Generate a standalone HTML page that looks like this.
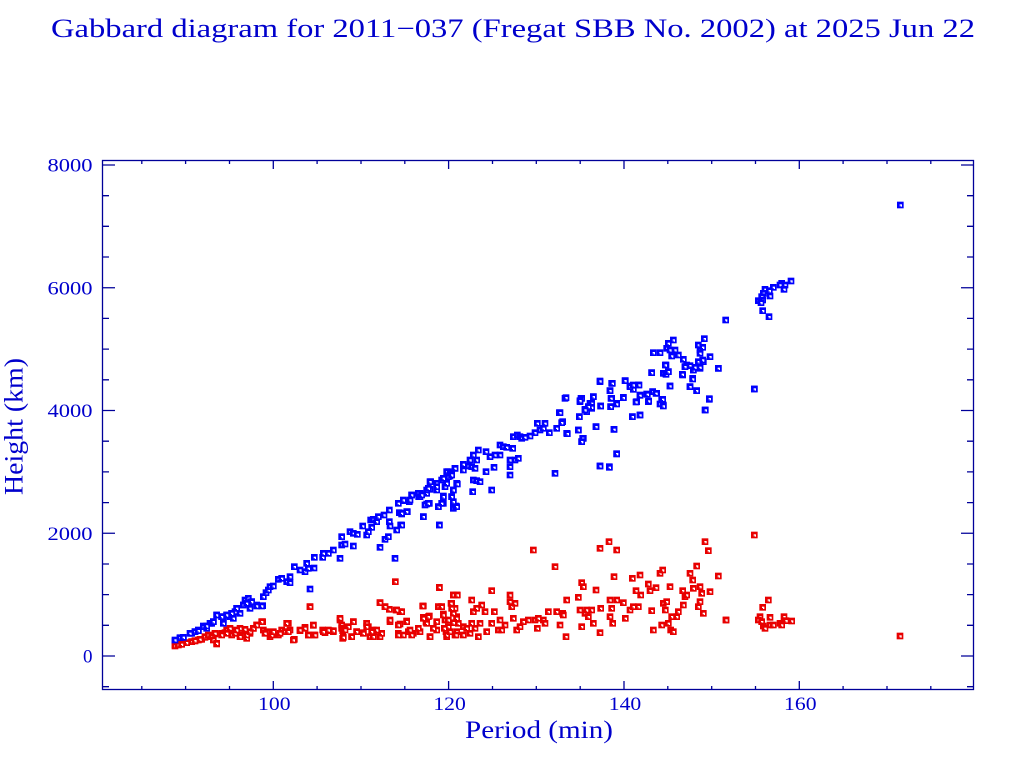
<!DOCTYPE html>
<html><head><meta charset="utf-8"><style>html,body{margin:0;padding:0;background:#fff}svg{display:block}</style></head><body>
<svg width="1024" height="768" viewBox="0 0 1024 768" xmlns="http://www.w3.org/2000/svg">
<defs>
<g id="b"><rect x="-10" y="-10" width="20" height="20" fill="#0000ff"/><rect x="-2" y="-2" width="7" height="7" fill="#fff"/><rect x="-2" y="2" width="3" height="3" fill="#0000ff"/></g>
<g id="r"><rect x="-10" y="-10" width="20" height="20" fill="#e80000"/><rect x="-2" y="-2" width="7" height="7" fill="#fff"/><rect x="-2" y="2" width="3" height="3" fill="#e80000"/></g>
</defs>
<rect width="1024" height="768" fill="#fff"/>
<g font-family="'Liberation Serif', serif" fill="#0000cc">
<text x="51" y="37" font-size="26" textLength="924" lengthAdjust="spacingAndGlyphs">Gabbard diagram for 2011−037 (Fregat SBB No. 2002) at 2025 Jun 22</text>
<g font-size="19" text-anchor="end">
<text x="92.5" y="662.5">0</text>
<text x="92.5" y="539.8" textLength="45" lengthAdjust="spacingAndGlyphs">2000</text>
<text x="92.5" y="417" textLength="45" lengthAdjust="spacingAndGlyphs">4000</text>
<text x="92.5" y="294.3" textLength="45" lengthAdjust="spacingAndGlyphs">6000</text>
<text x="92.5" y="171.5" textLength="45" lengthAdjust="spacingAndGlyphs">8000</text>
</g>
<g font-size="19" text-anchor="middle">
<text x="274.3" y="710" textLength="32.5" lengthAdjust="spacingAndGlyphs">100</text>
<text x="449.6" y="710" textLength="32.5" lengthAdjust="spacingAndGlyphs">120</text>
<text x="625" y="710" textLength="32.5" lengthAdjust="spacingAndGlyphs">140</text>
<text x="800.3" y="710" textLength="32.5" lengthAdjust="spacingAndGlyphs">160</text>
</g>
<text x="539" y="738" font-size="25" text-anchor="middle" textLength="148" lengthAdjust="spacingAndGlyphs">Period (min)</text>
<text transform="translate(22.7,426.5) rotate(-90)" font-size="26" text-anchor="middle" textLength="137" lengthAdjust="spacingAndGlyphs">Height (km)</text>
</g>
<g stroke="#000099" stroke-width="1.3" fill="none">
<rect x="102.5" y="160.5" width="871" height="529"/>
<path d="M273.3 689.5V681M448.6 689.5V681M624 689.5V681M799.3 689.5V681M273.3 160.5V169M448.6 160.5V169M624 160.5V169M799.3 160.5V169"/>
<path d="M141.8 689.5v-3.5M185.6 689.5v-3.5M229.5 689.5v-3.5M317.1 689.5v-3.5M361 689.5v-3.5M404.8 689.5v-3.5M492.5 689.5v-3.5M536.3 689.5v-3.5M580.2 689.5v-3.5M667.8 689.5v-3.5M711.7 689.5v-3.5M755.5 689.5v-3.5M843.1 689.5v-3.5M887 689.5v-3.5M930.8 689.5v-3.5"/>
<path d="M141.8 160.5v3.5M185.6 160.5v3.5M229.5 160.5v3.5M317.1 160.5v3.5M361 160.5v3.5M404.8 160.5v3.5M492.5 160.5v3.5M536.3 160.5v3.5M580.2 160.5v3.5M667.8 160.5v3.5M711.7 160.5v3.5M755.5 160.5v3.5M843.1 160.5v3.5M887 160.5v3.5M930.8 160.5v3.5"/>
<path d="M102.5 656h12.5M102.5 533.25h12.5M102.5 410.5h12.5M102.5 287.75h12.5M102.5 165h12.5M973.5 656h-12.5M973.5 533.25h-12.5M973.5 410.5h-12.5M973.5 287.75h-12.5M973.5 165h-12.5"/>
<path d="M102.5 686.7h6.5M102.5 625.3h6.5M102.5 594.6h6.5M102.5 564h6.5M102.5 502.6h6.5M102.5 471.9h6.5M102.5 441.2h6.5M102.5 379.8h6.5M102.5 349.1h6.5M102.5 318.4h6.5M102.5 257h6.5M102.5 226.3h6.5M102.5 195.7h6.5"/>
<path d="M973.5 686.7h-6.5M973.5 625.3h-6.5M973.5 594.6h-6.5M973.5 564h-6.5M973.5 502.6h-6.5M973.5 471.9h-6.5M973.5 441.2h-6.5M973.5 379.8h-6.5M973.5 349.1h-6.5M973.5 318.4h-6.5M973.5 257h-6.5M973.5 226.3h-6.5M973.5 195.7h-6.5"/>
</g>
<g transform="translate(160,440) scale(0.33333)">
<use href="#r" x="45" y="615"/><use href="#r" x="55" y="613"/><use href="#r" x="65" y="610"/><use href="#r" x="80" y="608"/><use href="#r" x="95" y="605"/><use href="#r" x="105" y="603"/><use href="#r" x="115" y="600"/><use href="#r" x="125" y="598"/><use href="#r" x="135" y="592"/><use href="#r" x="145" y="590"/><use href="#r" x="155" y="588"/><use href="#r" x="165" y="582"/><use href="#r" x="170" y="612"/><use href="#r" x="185" y="580"/><use href="#r" x="195" y="578"/><use href="#r" x="200" y="570"/><use href="#r" x="210" y="568"/><use href="#r" x="215" y="585"/><use href="#r" x="225" y="575"/><use href="#r" x="240" y="565"/><use href="#r" x="245" y="585"/><use href="#r" x="255" y="568"/><use href="#r" x="260" y="595"/><use href="#r" x="270" y="580"/><use href="#r" x="280" y="565"/><use href="#r" x="290" y="555"/><use href="#r" x="308" y="545"/><use href="#r" x="310" y="570"/><use href="#r" x="320" y="575"/><use href="#r" x="330" y="590"/><use href="#r" x="340" y="578"/><use href="#r" x="355" y="585"/><use href="#r" x="365" y="570"/><use href="#r" x="375" y="575"/><use href="#r" x="385" y="550"/><use href="#r" x="390" y="570"/><use href="#r" x="403" y="598"/><use href="#r" x="420" y="572"/><use href="#r" x="435" y="562"/><use href="#r" x="445" y="585"/><use href="#r" x="460" y="556"/><use href="#r" x="462" y="585"/><use href="#r" x="450" y="500"/><use href="#r" x="488" y="570"/><use href="#r" x="495" y="578"/><use href="#r" x="510" y="572"/><use href="#r" x="520" y="575"/><use href="#r" x="540" y="540"/><use href="#r" x="545" y="565"/><use href="#r" x="548" y="572"/><use href="#r" x="548" y="595"/><use href="#r" x="565" y="560"/><use href="#r" x="575" y="590"/><use href="#r" x="580" y="545"/><use href="#r" x="590" y="575"/><use href="#r" x="610" y="578"/><use href="#r" x="620" y="550"/><use href="#r" x="625" y="560"/><use href="#r" x="630" y="590"/><use href="#r" x="640" y="570"/><use href="#r" x="650" y="575"/><use href="#r" x="660" y="590"/><use href="#r" x="660" y="488"/><use href="#r" x="665" y="580"/><use href="#r" x="675" y="500"/><use href="#r" x="688" y="508"/><use href="#r" x="690" y="545"/><use href="#r" x="708" y="510"/><use href="#r" x="706" y="425"/><use href="#r" x="720" y="515"/><use href="#r" x="715" y="580"/><use href="#r" x="720" y="552"/><use href="#r" x="740" y="543"/><use href="#r" x="745" y="575"/><use href="#r" x="760" y="580"/><use href="#r" x="780" y="575"/><use href="#r" x="790" y="498"/><use href="#r" x="790" y="532"/><use href="#r" x="798" y="547"/><use href="#r" x="808" y="528"/><use href="#r" x="810" y="590"/><use href="#r" x="830" y="570"/><use href="#r" x="835" y="500"/><use href="#r" x="838" y="443"/><use href="#r" x="845" y="500"/><use href="#r" x="850" y="522"/><use href="#r" x="855" y="540"/><use href="#r" x="858" y="575"/><use href="#r" x="860" y="590"/><use href="#r" x="865" y="560"/><use href="#r" x="875" y="490"/><use href="#r" x="880" y="465"/><use href="#r" x="890" y="465"/><use href="#r" x="885" y="505"/><use href="#r" x="890" y="530"/><use href="#r" x="885" y="585"/><use href="#r" x="890" y="575"/><use href="#r" x="880" y="548"/>
<use href="#b" x="45" y="603"/><use href="#b" x="60" y="595"/><use href="#b" x="70" y="592"/><use href="#b" x="95" y="580"/><use href="#b" x="105" y="575"/><use href="#b" x="115" y="570"/><use href="#b" x="130" y="558"/><use href="#b" x="140" y="565"/><use href="#b" x="150" y="550"/><use href="#b" x="160" y="545"/><use href="#b" x="170" y="525"/><use href="#b" x="185" y="530"/><use href="#b" x="190" y="540"/><use href="#b" x="200" y="525"/><use href="#b" x="210" y="530"/><use href="#b" x="215" y="520"/><use href="#b" x="225" y="515"/><use href="#b" x="230" y="505"/><use href="#b" x="240" y="520"/><use href="#b" x="250" y="495"/><use href="#b" x="255" y="480"/><use href="#b" x="265" y="475"/><use href="#b" x="262" y="490"/><use href="#b" x="275" y="485"/><use href="#b" x="270" y="505"/><use href="#b" x="290" y="495"/><use href="#b" x="308" y="497"/><use href="#b" x="310" y="470"/><use href="#b" x="318" y="458"/><use href="#b" x="325" y="450"/><use href="#b" x="330" y="440"/><use href="#b" x="340" y="438"/><use href="#b" x="355" y="418"/><use href="#b" x="365" y="415"/><use href="#b" x="380" y="425"/><use href="#b" x="390" y="410"/><use href="#b" x="390" y="428"/><use href="#b" x="403" y="380"/><use href="#b" x="420" y="390"/><use href="#b" x="435" y="395"/><use href="#b" x="440" y="370"/><use href="#b" x="445" y="385"/><use href="#b" x="462" y="384"/><use href="#b" x="463" y="352"/><use href="#b" x="488" y="352"/><use href="#b" x="490" y="340"/><use href="#b" x="505" y="340"/><use href="#b" x="520" y="330"/><use href="#b" x="540" y="355"/><use href="#b" x="545" y="315"/><use href="#b" x="555" y="312"/><use href="#b" x="580" y="318"/><use href="#b" x="545" y="290"/><use href="#b" x="570" y="275"/><use href="#b" x="580" y="280"/><use href="#b" x="592" y="283"/><use href="#b" x="608" y="258"/><use href="#b" x="620" y="285"/><use href="#b" x="625" y="275"/><use href="#b" x="635" y="262"/><use href="#b" x="632" y="240"/><use href="#b" x="640" y="238"/><use href="#b" x="650" y="245"/><use href="#b" x="655" y="230"/><use href="#b" x="672" y="225"/><use href="#b" x="688" y="210"/><use href="#b" x="688" y="245"/><use href="#b" x="690" y="258"/><use href="#b" x="675" y="298"/><use href="#b" x="685" y="290"/><use href="#b" x="660" y="322"/><use href="#b" x="705" y="355"/><use href="#b" x="710" y="270"/><use href="#b" x="722" y="255"/><use href="#b" x="718" y="218"/><use href="#b" x="725" y="222"/><use href="#b" x="742" y="215"/><use href="#b" x="715" y="190"/><use href="#b" x="730" y="182"/><use href="#b" x="748" y="185"/><use href="#b" x="755" y="165"/><use href="#b" x="776" y="170"/><use href="#b" x="780" y="160"/><use href="#b" x="800" y="160"/><use href="#b" x="810" y="148"/><use href="#b" x="800" y="192"/><use href="#b" x="808" y="190"/><use href="#b" x="790" y="230"/><use href="#b" x="812" y="125"/><use href="#b" x="830" y="130"/><use href="#b" x="845" y="120"/><use href="#b" x="855" y="140"/><use href="#b" x="860" y="130"/><use href="#b" x="830" y="150"/><use href="#b" x="835" y="200"/><use href="#b" x="850" y="190"/><use href="#b" x="850" y="168"/><use href="#b" x="865" y="95"/><use href="#b" x="870" y="108"/><use href="#b" x="875" y="100"/><use href="#b" x="885" y="85"/><use href="#b" x="890" y="130"/><use href="#b" x="880" y="150"/><use href="#b" x="875" y="170"/><use href="#b" x="880" y="205"/><use href="#b" x="888" y="198"/><use href="#b" x="838" y="255"/><use href="#b" x="450" y="447"/>
</g>
<g transform="translate(400,360) scale(0.33333)">
<use href="#r" x="5" y="755"/><use href="#r" x="20" y="785"/><use href="#r" x="10" y="825"/><use href="#r" x="35" y="825"/><use href="#r" x="30" y="810"/><use href="#r" x="55" y="805"/><use href="#r" x="68" y="738"/><use href="#r" x="70" y="775"/><use href="#r" x="80" y="790"/><use href="#r" x="85" y="770"/><use href="#r" x="90" y="830"/><use href="#r" x="100" y="805"/><use href="#r" x="110" y="785"/><use href="#r" x="115" y="740"/><use href="#r" x="118" y="682"/><use href="#r" x="125" y="740"/><use href="#r" x="130" y="765"/><use href="#r" x="133" y="805"/><use href="#r" x="140" y="825"/><use href="#r" x="145" y="780"/><use href="#r" x="150" y="815"/><use href="#r" x="153" y="730"/><use href="#r" x="155" y="745"/><use href="#r" x="160" y="705"/><use href="#r" x="160" y="760"/><use href="#r" x="168" y="825"/><use href="#r" x="172" y="705"/><use href="#r" x="170" y="775"/><use href="#r" x="175" y="790"/><use href="#r" x="190" y="800"/><use href="#r" x="190" y="825"/><use href="#r" x="200" y="805"/><use href="#r" x="210" y="820"/><use href="#r" x="215" y="720"/><use href="#r" x="215" y="790"/><use href="#r" x="220" y="755"/><use href="#r" x="225" y="805"/><use href="#r" x="230" y="745"/><use href="#r" x="235" y="830"/><use href="#r" x="240" y="790"/><use href="#r" x="245" y="735"/><use href="#r" x="255" y="755"/><use href="#r" x="260" y="815"/><use href="#r" x="275" y="692"/><use href="#r" x="275" y="790"/><use href="#r" x="283" y="755"/><use href="#r" x="295" y="810"/><use href="#r" x="300" y="780"/><use href="#r" x="305" y="810"/><use href="#r" x="315" y="795"/><use href="#r" x="330" y="705"/><use href="#r" x="330" y="725"/><use href="#r" x="335" y="740"/><use href="#r" x="340" y="775"/><use href="#r" x="345" y="730"/><use href="#r" x="350" y="810"/><use href="#r" x="360" y="800"/><use href="#r" x="370" y="785"/><use href="#r" x="385" y="780"/><use href="#r" x="400" y="570"/><use href="#r" x="405" y="780"/><use href="#r" x="415" y="775"/><use href="#r" x="412" y="805"/><use href="#r" x="430" y="780"/><use href="#r" x="435" y="790"/><use href="#r" x="445" y="755"/><use href="#r" x="465" y="620"/><use href="#r" x="470" y="755"/><use href="#r" x="480" y="795"/><use href="#r" x="488" y="760"/><use href="#r" x="490" y="765"/><use href="#r" x="498" y="830"/><use href="#r" x="500" y="720"/><use href="#r" x="535" y="712"/><use href="#r" x="540" y="750"/><use href="#r" x="545" y="668"/><use href="#r" x="545" y="800"/><use href="#r" x="550" y="680"/><use href="#r" x="555" y="760"/><use href="#r" x="560" y="750"/><use href="#r" x="565" y="770"/><use href="#r" x="575" y="750"/><use href="#r" x="580" y="790"/><use href="#r" x="588" y="690"/><use href="#r" x="600" y="565"/><use href="#r" x="600" y="818"/><use href="#r" x="602" y="745"/><use href="#r" x="627" y="545"/><use href="#r" x="630" y="720"/><use href="#r" x="630" y="770"/><use href="#r" x="635" y="745"/><use href="#r" x="638" y="790"/><use href="#r" x="642" y="650"/><use href="#r" x="650" y="570"/><use href="#r" x="650" y="720"/><use href="#r" x="670" y="728"/><use href="#r" x="676" y="775"/><use href="#r" x="690" y="750"/><use href="#r" x="697" y="655"/><use href="#r" x="700" y="740"/><use href="#r" x="708" y="692"/><use href="#r" x="715" y="740"/><use href="#r" x="720" y="645"/><use href="#r" x="722" y="705"/><use href="#r" x="745" y="672"/><use href="#r" x="750" y="692"/><use href="#r" x="755" y="752"/><use href="#r" x="760" y="810"/><use href="#r" x="768" y="683"/><use href="#r" x="780" y="640"/><use href="#r" x="785" y="795"/><use href="#r" x="788" y="630"/><use href="#r" x="790" y="730"/><use href="#r" x="796" y="750"/><use href="#r" x="800" y="725"/><use href="#r" x="805" y="790"/><use href="#r" x="810" y="680"/><use href="#r" x="812" y="810"/><use href="#r" x="815" y="770"/><use href="#r" x="820" y="815"/><use href="#r" x="830" y="770"/><use href="#r" x="835" y="755"/><use href="#r" x="850" y="735"/><use href="#r" x="848" y="692"/><use href="#r" x="855" y="710"/><use href="#r" x="860" y="705"/><use href="#r" x="870" y="640"/><use href="#r" x="878" y="660"/><use href="#r" x="880" y="685"/><use href="#r" x="890" y="618"/><use href="#r" x="895" y="740"/><use href="#r" x="900" y="680"/><use href="#r" x="900" y="725"/><use href="#r" x="905" y="700"/><use href="#r" x="910" y="760"/><use href="#r" x="915" y="545"/><use href="#r" x="925" y="572"/><use href="#r" x="930" y="695"/><use href="#r" x="955" y="648"/><use href="#r" x="978" y="780"/>
<use href="#b" x="5" y="495"/><use href="#b" x="10" y="420"/><use href="#b" x="5" y="460"/><use href="#b" x="20" y="455"/><use href="#b" x="35" y="405"/><use href="#b" x="30" y="420"/><use href="#b" x="55" y="400"/><use href="#b" x="60" y="410"/><use href="#b" x="65" y="405"/><use href="#b" x="70" y="470"/><use href="#b" x="75" y="435"/><use href="#b" x="80" y="390"/><use href="#b" x="85" y="385"/><use href="#b" x="90" y="365"/><use href="#b" x="85" y="430"/><use href="#b" x="110" y="380"/><use href="#b" x="115" y="440"/><use href="#b" x="118" y="495"/><use href="#b" x="125" y="430"/><use href="#b" x="130" y="410"/><use href="#b" x="130" y="355"/><use href="#b" x="140" y="335"/><use href="#b" x="145" y="350"/><use href="#b" x="150" y="340"/><use href="#b" x="155" y="345"/><use href="#b" x="155" y="410"/><use href="#b" x="160" y="425"/><use href="#b" x="160" y="390"/><use href="#b" x="165" y="325"/><use href="#b" x="170" y="440"/><use href="#b" x="172" y="372"/><use href="#b" x="190" y="313"/><use href="#b" x="190" y="330"/><use href="#b" x="205" y="318"/><use href="#b" x="210" y="300"/><use href="#b" x="215" y="320"/><use href="#b" x="220" y="285"/><use href="#b" x="225" y="325"/><use href="#b" x="230" y="300"/><use href="#b" x="235" y="270"/><use href="#b" x="220" y="360"/><use href="#b" x="230" y="362"/><use href="#b" x="240" y="365"/><use href="#b" x="218" y="395"/><use href="#b" x="258" y="275"/><use href="#b" x="258" y="335"/><use href="#b" x="270" y="290"/><use href="#b" x="275" y="390"/><use href="#b" x="285" y="285"/><use href="#b" x="282" y="322"/><use href="#b" x="300" y="285"/><use href="#b" x="300" y="255"/><use href="#b" x="310" y="260"/><use href="#b" x="320" y="262"/><use href="#b" x="330" y="345"/><use href="#b" x="330" y="320"/><use href="#b" x="330" y="300"/><use href="#b" x="338" y="265"/><use href="#b" x="340" y="230"/><use href="#b" x="345" y="300"/><use href="#b" x="352" y="225"/><use href="#b" x="355" y="295"/><use href="#b" x="360" y="230"/><use href="#b" x="365" y="235"/><use href="#b" x="375" y="232"/><use href="#b" x="390" y="228"/><use href="#b" x="405" y="218"/><use href="#b" x="412" y="190"/><use href="#b" x="420" y="210"/><use href="#b" x="430" y="205"/><use href="#b" x="435" y="190"/><use href="#b" x="448" y="218"/><use href="#b" x="465" y="340"/><use href="#b" x="470" y="205"/><use href="#b" x="478" y="158"/><use href="#b" x="488" y="185"/><use href="#b" x="500" y="220"/><use href="#b" x="495" y="115"/><use href="#b" x="535" y="210"/><use href="#b" x="538" y="170"/><use href="#b" x="543" y="115"/><use href="#b" x="540" y="125"/><use href="#b" x="545" y="245"/><use href="#b" x="550" y="235"/><use href="#b" x="555" y="148"/><use href="#b" x="565" y="140"/><use href="#b" x="570" y="130"/><use href="#b" x="575" y="145"/><use href="#b" x="580" y="110"/><use href="#b" x="588" y="200"/><use href="#b" x="600" y="318"/><use href="#b" x="600" y="65"/><use href="#b" x="602" y="138"/><use href="#b" x="628" y="320"/><use href="#b" x="630" y="92"/><use href="#b" x="632" y="140"/><use href="#b" x="635" y="70"/><use href="#b" x="635" y="115"/><use href="#b" x="642" y="208"/><use href="#b" x="650" y="130"/><use href="#b" x="650" y="282"/><use href="#b" x="670" y="112"/><use href="#b" x="676" y="62"/><use href="#b" x="690" y="78"/><use href="#b" x="697" y="170"/><use href="#b" x="700" y="88"/><use href="#b" x="710" y="125"/><use href="#b" x="715" y="75"/><use href="#b" x="720" y="105"/><use href="#b" x="720" y="165"/><use href="#b" x="740" y="102"/><use href="#b" x="745" y="125"/><use href="#b" x="755" y="38"/><use href="#b" x="758" y="95"/><use href="#b" x="770" y="100"/><use href="#b" x="785" y="120"/><use href="#b" x="790" y="135"/><use href="#b" x="795" y="40"/><use href="#b" x="798" y="15"/><use href="#b" x="805" y="35"/><use href="#b" x="810" y="78"/><use href="#b" x="848" y="45"/><use href="#b" x="855" y="20"/><use href="#b" x="860" y="15"/><use href="#b" x="870" y="80"/><use href="#b" x="878" y="55"/><use href="#b" x="880" y="30"/><use href="#b" x="890" y="92"/><use href="#b" x="895" y="20"/><use href="#b" x="900" y="25"/><use href="#b" x="910" y="5"/><use href="#b" x="915" y="150"/><use href="#b" x="928" y="118"/><use href="#b" x="955" y="25"/>
</g>
<g transform="translate(560,270) scale(0.33333)">
<use href="#b" x="693" y="33"/><use href="#b" x="665" y="40"/><use href="#b" x="660" y="45"/><use href="#b" x="675" y="45"/><use href="#b" x="640" y="52"/><use href="#b" x="615" y="58"/><use href="#b" x="628" y="62"/><use href="#b" x="610" y="70"/><use href="#b" x="605" y="80"/><use href="#b" x="608" y="90"/><use href="#b" x="595" y="92"/><use href="#b" x="603" y="98"/><use href="#b" x="630" y="78"/><use href="#b" x="672" y="58"/><use href="#b" x="608" y="122"/><use href="#b" x="627" y="140"/><use href="#b" x="497" y="150"/><use href="#b" x="340" y="210"/><use href="#b" x="325" y="220"/><use href="#b" x="320" y="235"/><use href="#b" x="330" y="240"/><use href="#b" x="345" y="240"/><use href="#b" x="280" y="248"/><use href="#b" x="300" y="248"/><use href="#b" x="335" y="258"/><use href="#b" x="355" y="255"/><use href="#b" x="370" y="268"/><use href="#b" x="433" y="206"/><use href="#b" x="415" y="225"/><use href="#b" x="420" y="240"/><use href="#b" x="428" y="232"/><use href="#b" x="420" y="250"/><use href="#b" x="450" y="260"/><use href="#b" x="415" y="275"/><use href="#b" x="428" y="270"/><use href="#b" x="375" y="290"/><use href="#b" x="390" y="287"/><use href="#b" x="400" y="300"/><use href="#b" x="405" y="292"/><use href="#b" x="420" y="292"/><use href="#b" x="475" y="295"/><use href="#b" x="316" y="285"/><use href="#b" x="275" y="308"/><use href="#b" x="310" y="310"/><use href="#b" x="318" y="313"/><use href="#b" x="325" y="305"/><use href="#b" x="367" y="313"/><use href="#b" x="398" y="327"/><use href="#b" x="330" y="348"/><use href="#b" x="390" y="350"/><use href="#b" x="410" y="362"/><use href="#b" x="583" y="357"/><use href="#b" x="448" y="386"/><use href="#b" x="436" y="420"/><use href="#b" x="120" y="333"/><use href="#b" x="157" y="340"/><use href="#b" x="195" y="332"/><use href="#b" x="210" y="350"/><use href="#b" x="220" y="345"/><use href="#b" x="237" y="345"/><use href="#b" x="240" y="376"/><use href="#b" x="262" y="373"/><use href="#b" x="278" y="365"/><use href="#b" x="288" y="370"/><use href="#b" x="308" y="388"/><use href="#b" x="300" y="402"/><use href="#b" x="310" y="408"/><use href="#b" x="266" y="393"/><use href="#b" x="228" y="396"/><use href="#b" x="240" y="435"/><use href="#b" x="217" y="440"/><use href="#b" x="190" y="383"/><use href="#b" x="170" y="402"/><use href="#b" x="153" y="385"/><use href="#b" x="150" y="362"/><use href="#b" x="152" y="410"/><use href="#b" x="122" y="408"/><use href="#b" x="100" y="380"/><use href="#b" x="95" y="400"/><use href="#b" x="95" y="412"/><use href="#b" x="85" y="410"/><use href="#b" x="80" y="425"/><use href="#b" x="75" y="420"/><use href="#b" x="65" y="385"/><use href="#b" x="60" y="392"/><use href="#b" x="18" y="383"/><use href="#b" x="5" y="458"/><use href="#b" x="0" y="428"/><use href="#b" x="58" y="440"/><use href="#b" x="55" y="480"/><use href="#b" x="22" y="491"/><use href="#b" x="68" y="505"/><use href="#b" x="65" y="515"/><use href="#b" x="108" y="470"/><use href="#b" x="162" y="478"/><use href="#b" x="170" y="551"/><use href="#b" x="120" y="588"/><use href="#b" x="148" y="592"/>
</g>
<g transform="translate(80,600) scale(0.33333)">
<use href="#r" x="285" y="138"/><use href="#r" x="295" y="135"/><use href="#r" x="305" y="133"/><use href="#r" x="320" y="128"/><use href="#r" x="335" y="125"/><use href="#r" x="345" y="122"/><use href="#r" x="360" y="118"/><use href="#r" x="375" y="110"/><use href="#r" x="385" y="105"/><use href="#r" x="395" y="110"/><use href="#r" x="400" y="120"/><use href="#r" x="410" y="130"/><use href="#r" x="405" y="100"/><use href="#r" x="425" y="105"/><use href="#r" x="440" y="100"/><use href="#r" x="450" y="85"/><use href="#r" x="465" y="100"/><use href="#r" x="470" y="90"/><use href="#r" x="480" y="110"/><use href="#r" x="500" y="105"/><use href="#r" x="510" y="95"/><use href="#r" x="520" y="85"/><use href="#r" x="530" y="75"/><use href="#r" x="545" y="65"/><use href="#r" x="555" y="100"/><use href="#r" x="575" y="105"/><use href="#r" x="580" y="95"/><use href="#r" x="600" y="100"/><use href="#r" x="620" y="70"/><use href="#r" x="625" y="95"/><use href="#r" x="640" y="120"/><use href="#r" x="660" y="90"/><use href="#r" x="675" y="85"/><use href="#r" x="685" y="105"/><use href="#r" x="690" y="20"/><use href="#r" x="700" y="75"/><use href="#r" x="705" y="105"/><use href="#r" x="730" y="95"/><use href="#r" x="745" y="90"/><use href="#r" x="760" y="92"/><use href="#r" x="780" y="55"/><use href="#r" x="785" y="75"/><use href="#r" x="790" y="85"/><use href="#r" x="795" y="90"/><use href="#r" x="790" y="112"/><use href="#r" x="815" y="110"/><use href="#r" x="820" y="65"/><use href="#r" x="830" y="95"/><use href="#r" x="850" y="100"/><use href="#r" x="860" y="70"/><use href="#r" x="860" y="80"/><use href="#r" x="875" y="95"/><use href="#r" x="880" y="110"/><use href="#r" x="890" y="90"/><use href="#r" x="900" y="8"/><use href="#r" x="915" y="20"/><use href="#r" x="930" y="60"/><use href="#r" x="950" y="30"/><use href="#r" x="955" y="105"/><use href="#r" x="955" y="75"/>
<use href="#b" x="285" y="120"/><use href="#b" x="300" y="113"/><use href="#b" x="310" y="112"/><use href="#b" x="330" y="100"/><use href="#b" x="345" y="95"/><use href="#b" x="355" y="92"/><use href="#b" x="370" y="80"/><use href="#b" x="380" y="78"/><use href="#b" x="395" y="70"/><use href="#b" x="400" y="65"/><use href="#b" x="410" y="45"/><use href="#b" x="425" y="50"/><use href="#b" x="430" y="70"/><use href="#b" x="440" y="45"/><use href="#b" x="455" y="40"/><use href="#b" x="460" y="55"/><use href="#b" x="470" y="25"/><use href="#b" x="490" y="15"/><use href="#b" x="500" y="10"/><use href="#b" x="515" y="5"/><use href="#b" x="530" y="18"/><use href="#b" x="545" y="18"/>
</g>
<g transform="translate(700,600) scale(0.33333)">
<use href="#r" x="78" y="60"/><use href="#r" x="188" y="22"/><use href="#r" x="205" y="0"/><use href="#r" x="180" y="50"/><use href="#r" x="175" y="60"/><use href="#r" x="185" y="65"/><use href="#r" x="190" y="78"/><use href="#r" x="195" y="85"/><use href="#r" x="210" y="52"/><use href="#r" x="210" y="75"/><use href="#r" x="220" y="75"/><use href="#r" x="240" y="70"/><use href="#r" x="245" y="75"/><use href="#r" x="252" y="50"/><use href="#r" x="258" y="62"/><use href="#r" x="275" y="63"/><use href="#r" x="600" y="108"/>
</g>
<g transform="scale(0.33333)">
<use href="#b" x="2701" y="615"/><use href="#b" x="2263" y="1167"/><use href="#r" x="2263" y="1605"/>
</g>
</svg>
</body></html>
